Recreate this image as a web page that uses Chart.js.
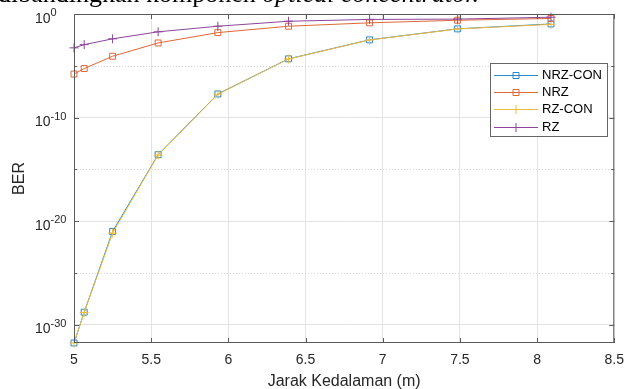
<!DOCTYPE html>
<html>
<head>
<meta charset="utf-8">
<script src="https://cdn.jsdelivr.net/npm/chart.js@4.4.1/dist/chart.umd.min.js"></script>
<style>
  body { margin: 0; background: #fff; }
  #wrap { position: relative; width: 633px; height: 389px; overflow: hidden; }
  #chart { position: absolute; left: 0; top: 0; }
  #caption { position: absolute; left: -2px; top: -21px; font: 26px "Liberation Serif", serif; color: #000; white-space: nowrap; }
</style>
</head>
<body>
<div id="wrap">
  <canvas id="chart" width="633" height="389"></canvas>
  <div id="caption">dibandingkan komponen <i>optical concentrator.</i></div>
</div>
<script>
// jarak kedalaman (m)
const depth = [5, 5.066, 5.25, 5.545, 5.932, 6.39, 6.915, 7.485, 8.09];

// BER per skema modulasi
const berNrzCon = [1.7e-32, 1.6e-29, 1.0e-21, 2.6e-14, 1.9e-8, 4.7e-5, 3.2e-3, 3.7e-2, 0.11];
const berNrz    = [1.6e-6, 5.4e-6, 8.3e-5, 1.6e-3, 0.016, 0.066, 0.14, 0.25, 0.37];
const berRzCon  = [1.7e-32, 1.5e-29, 6.9e-22, 2.4e-14, 1.8e-8, 4.5e-5, 3.1e-3, 3.6e-2, 0.10];
const berRz     = [5.4e-4, 1.1e-3, 4.0e-3, 0.019, 0.066, 0.2, 0.3, 0.32, 0.49];

const seriesNames = ['NRZ-CON', 'NRZ', 'RZ-CON', 'RZ'];
const xTicks = [5, 5.5, 6, 6.5, 7, 7.5, 8, 8.5];
const yMajorExp = [0, -10, -20, -30];
const yMinorExp = [-5, -15, -25];

const FONT = '"Liberation Sans", Arial, sans-serif';
const TXT = '#262626';

function pts(arr) {
    return depth.map((d, i) => ({ x: d, y: arr[i] }));
}

function makeSet(label, data, color, marker, order) {
    return {
        label: label,
        data: pts(data),
        borderColor: color,
        backgroundColor: 'rgba(0,0,0,0)',
        borderWidth: 1,
        pointStyle: marker,
        pointRadius: marker === 'rect' ? 4.2 : 4.5,
        pointBorderWidth: 1,
        pointBorderColor: color,
        tension: 0,
        clip: 8,
        order: order
    };
}

const datasets = [
    makeSet(seriesNames[0], berNrzCon, '#2b88cc', 'rect', 3),
    makeSet(seriesNames[1], berNrz, '#df6736', 'rect', 2),
    makeSet(seriesNames[2], berRzCon, '#efbb3a', 'cross', 1),
    makeSet(seriesNames[3], berRz, '#8d459c', 'cross', 0)
];

// bingkai gaya MATLAB: grid minor, kotak, tick ke dalam, label, legenda
const matlabFrame = {
    id: 'matlabFrame',
    beforeDatasetsDraw(chart) {
        const ctx = chart.ctx, a = chart.chartArea, y = chart.scales.y;
        ctx.save();
        ctx.strokeStyle = '#d4d4d4';
        ctx.lineWidth = 1;
        ctx.setLineDash([1, 2]);
        yMinorExp.forEach(e => {
            const py = Math.round(y.getPixelForValue(Math.pow(10, e))) + 0.5;
            ctx.beginPath();
            ctx.moveTo(a.left, py);
            ctx.lineTo(a.right, py);
            ctx.stroke();
        });
        ctx.restore();
    },
    afterDatasetsDraw(chart) {
        const ctx = chart.ctx, a = chart.chartArea;
        const x = chart.scales.x, y = chart.scales.y;
        ctx.save();
        ctx.strokeStyle = '#5a5a5a';
        ctx.lineWidth = 1;
        ctx.strokeRect(a.left + 0.5, a.top + 0.5, a.right - a.left - 1, a.bottom - a.top - 1);

        ctx.beginPath();
        xTicks.forEach(v => {
            const px = Math.round(x.getPixelForValue(v)) + 0.5;
            ctx.moveTo(px, a.bottom); ctx.lineTo(px, a.bottom - 5);
            ctx.moveTo(px, a.top); ctx.lineTo(px, a.top + 5);
        });
        yMajorExp.forEach(e => {
            const py = Math.round(y.getPixelForValue(Math.pow(10, e))) + 0.5;
            ctx.moveTo(a.left, py); ctx.lineTo(a.left + 5, py);
            ctx.moveTo(a.right, py); ctx.lineTo(a.right - 5, py);
        });
        yMinorExp.forEach(e => {
            const py = Math.round(y.getPixelForValue(Math.pow(10, e))) + 0.5;
            ctx.moveTo(a.left, py); ctx.lineTo(a.left + 3, py);
            ctx.moveTo(a.right, py); ctx.lineTo(a.right - 3, py);
        });
        ctx.stroke();

        // label sumbu y 10^n
        ctx.fillStyle = TXT;
        ctx.textBaseline = 'alphabetic';
        ctx.textAlign = 'left';
        yMajorExp.forEach(e => {
            const py = y.getPixelForValue(Math.pow(10, e));
            ctx.font = '14px ' + FONT;
            ctx.fillText('10', 35, py + 8.5);
            const w = ctx.measureText('10').width;
            ctx.font = '11px ' + FONT;
            ctx.fillText(String(e), 35 + w, py + 2);
        });

        // judul sumbu
        ctx.font = '16px ' + FONT;
        ctx.textAlign = 'center';
        ctx.textBaseline = 'middle';
        ctx.fillText('Jarak Kedalaman (m)', (a.left + a.right) / 2, 382);
        ctx.save();
        ctx.translate(20, (a.top + a.bottom) / 2);
        ctx.rotate(-Math.PI / 2);
        ctx.fillText('BER', 0, 0);
        ctx.restore();

        // legenda
        const lx = 490.5, ly = 63.5, lw = 117, lh = 73;
        ctx.fillStyle = '#fff';
        ctx.fillRect(lx, ly, lw, lh);
        ctx.strokeStyle = '#666';
        ctx.strokeRect(lx, ly, lw, lh);
        const rows = [75, 92.3, 109.3, 126.7];
        ctx.font = '13px ' + FONT;
        ctx.textAlign = 'left';
        ctx.textBaseline = 'middle';
        datasets.forEach((ds, i) => {
            const ry = Math.round(rows[i]) + 0.5;
            ctx.strokeStyle = ds.borderColor;
            ctx.lineWidth = 1;
            ctx.beginPath();
            ctx.moveTo(494, ry); ctx.lineTo(538, ry);
            ctx.stroke();
            ctx.beginPath();
            if (ds.pointStyle === 'rect') {
                ctx.rect(513, ry - 3, 6, 6);
            } else {
                ctx.moveTo(511.5, ry); ctx.lineTo(520.5, ry);
                ctx.moveTo(516, ry - 4.5); ctx.lineTo(516, ry + 4.5);
            }
            ctx.stroke();
            ctx.fillStyle = '#000';
            ctx.fillText(ds.label, 542, rows[i] + 0.5);
        });
        ctx.restore();
    }
};

new Chart(document.getElementById('chart').getContext('2d'), {
    type: 'line',
    data: { datasets: datasets },
    options: {
        responsive: false,
        animation: false,
        devicePixelRatio: 1,
        layout: { padding: { top: 14, right: 13, left: 0, bottom: 0 } },
        plugins: { legend: { display: false }, tooltip: { enabled: false } },
        scales: {
            x: {
                type: 'linear',
                min: 5,
                max: 8.5,
                afterBuildTicks: s => { s.ticks = xTicks.map(v => ({ value: v })); },
                afterFit: s => { s.height = 46; },
                ticks: {
                    font: { family: FONT, size: 14 },
                    color: TXT,
                    padding: 9,
                    maxRotation: 0,
                    autoSkip: false,
                    callback: v => String(v)
                },
                grid: { color: '#e3e3e3', drawTicks: false },
                border: { display: false }
            },
            y: {
                type: 'logarithmic',
                min: Math.pow(10, -31.77),
                max: 1,
                afterBuildTicks: s => { s.ticks = yMajorExp.map(e => ({ value: Math.pow(10, e) })); },
                afterFit: s => { s.width = 74; },
                ticks: { display: false },
                grid: { color: '#e3e3e3', drawTicks: false },
                border: { display: false }
            }
        }
    },
    plugins: [matlabFrame]
});
</script>
</body>
</html>
